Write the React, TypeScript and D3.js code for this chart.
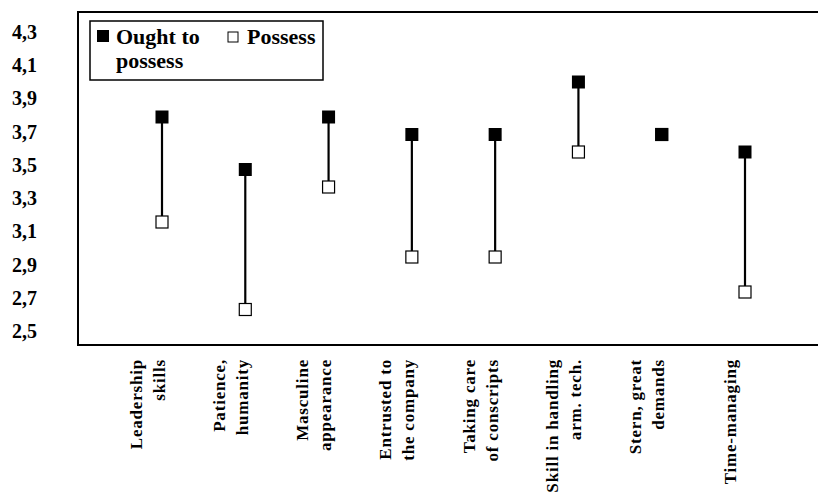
import React from "react";
import * as d3 from "d3";

const categories: string[][] = [
  ["Leadership", "skills"],
  ["Patience,", "humanity"],
  ["Masculine", "appearance"],
  ["Entrusted to", "the company"],
  ["Taking care", "of conscripts"],
  ["Skill in handling", "arm. tech."],
  ["Stern, great", "demands"],
  ["Time-managing"],
];
const oughtToPossess: number[] = [3.8, 3.5, 3.8, 3.7, 3.7, 4.0, 3.7, 3.6];
const possess: number[] = [3.2, 2.7, 3.4, 3.0, 3.0, 3.6, 3.7, 2.8];
const yTickLabels: number[] = [4.3, 4.1, 3.9, 3.7, 3.5, 3.3, 3.1, 2.9, 2.7, 2.5];

const W = 818;
const H = 496;
const FONT = "'Liberation Serif', 'Times New Roman', serif";

export default function App() {
  const keys = categories.map((c) => c.join(" "));
  const x = d3.scalePoint<string>().domain(keys).range([162, 745]);
  const y = d3.scaleLinear().domain([2.5, 4.4]).range([344.5, 12]);
  // tick labels in the source are evenly spread, slightly offset from the data scale
  const yLabel = d3.scaleLinear().domain([2.5, 4.3]).range([331, 32]);
  const fmt = (v: number) => d3.format(".1f")(v).replace(".", ",");
  const plotLeft = 78;
  const plotTop = 12;
  const plotBottom = 345;
  const ms = 12;

  return (
    <svg
      width={W}
      height={H}
      style={{ position: "absolute", left: 0, top: 0, background: "#fff" }}
      fontFamily={FONT}
    >
      <rect x={0} y={0} width={W} height={H} fill="#fff" />
      {/* plot frame */}
      <path
        d={`M${W + 5},${plotTop}H${plotLeft}V${plotBottom}H${W + 5}`}
        fill="none"
        stroke="#000"
        strokeWidth={2}
      />
      {/* y tick labels */}
      {yTickLabels.map((v) => (
        <text
          key={v}
          x={37}
          y={yLabel(v)}
          dy="0.35em"
          textAnchor="end"
          fontWeight="bold"
          fontSize={20}
        >
          {fmt(v)}
        </text>
      ))}
      {/* connectors */}
      {keys.map((k, i) => (
        <line
          key={"l" + k}
          x1={x(k)!}
          x2={x(k)!}
          y1={y(oughtToPossess[i])}
          y2={y(possess[i])}
          stroke="#000"
          strokeWidth={2.2}
        />
      ))}
      {/* possess markers */}
      {keys.map((k, i) => (
        <rect
          key={"p" + k}
          x={x(k)! - ms / 2}
          y={y(possess[i]) - ms / 2}
          width={ms}
          height={ms}
          fill="#fff"
          stroke="#000"
          strokeWidth={1.2}
        />
      ))}
      {/* ought markers */}
      {keys.map((k, i) => (
        <rect
          key={"o" + k}
          x={x(k)! - ms / 2 - 0.5}
          y={y(oughtToPossess[i]) - ms / 2 - 0.5}
          width={ms + 1}
          height={ms + 1}
          fill="#000"
        />
      ))}
      {/* x category labels */}
      {categories.map((lines, i) => {
        const cx = x(keys[i])! - 15;
        const n = lines.length;
        const lh = 23;
        return (
          <g key={"c" + i}>
            {lines.map((ln, j) => {
              const lx = cx + (j - (n - 1) / 2) * lh + 6;
              return (
                <text
                  key={j}
                  transform={`translate(${lx},359) rotate(-90)`}
                  textAnchor="end"
                  fontWeight="bold"
                  fontSize={17}
                  letterSpacing={0.8}
                >
                  {ln}
                </text>
              );
            })}
          </g>
        );
      })}
      {/* legend */}
      <rect x={90} y={21} width={233} height={59} fill="#fff" stroke="#000" strokeWidth={1.5} />
      <rect x={97} y={30} width={12} height={12} fill="#000" />
      <text x={116} y={44} fontWeight="bold" fontSize={22}>
        Ought to
      </text>
      <text x={116} y={68} fontWeight="bold" fontSize={22}>
        possess
      </text>
      <rect x={228} y={32} width={10} height={10} fill="#fff" stroke="#000" strokeWidth={1} />
      <text x={247} y={44} fontWeight="bold" fontSize={22}>
        Possess
      </text>
    </svg>
  );
}
